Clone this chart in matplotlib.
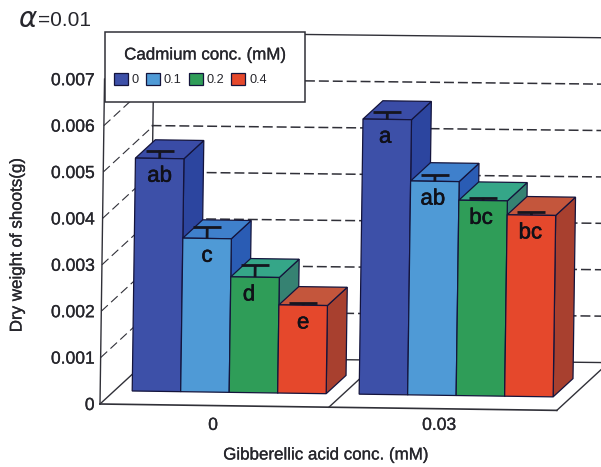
import matplotlib
matplotlib.use("Agg")
import matplotlib.pyplot as plt
from matplotlib.patches import Polygon, Patch, Rectangle
from matplotlib.transforms import Affine2D
import matplotlib.patheffects as pe

plt.rcParams['font.family'] = ['Liberation Sans', 'DejaVu Sans']

# ---- data ----
groups = ['0', '0.03']
series_names = ['0', '0.1', '0.2', '0.4']
group0_values = [0.00502, 0.00331, 0.00249, 0.00190]
group1_values = [0.00593, 0.00461, 0.00421, 0.00391]
group0_errors = [0.00017, 0.00024, 0.00026, 0.00004]
group1_errors = [0.00015, 0.00013, 0.00006, 0.00006]
group0_letters = ['ab', 'c', 'd', 'e']
group1_letters = ['a', 'ab', 'bc', 'bc']
y_ticks = [0, 0.001, 0.002, 0.003, 0.004, 0.005, 0.006, 0.007]
y_tick_labels = ['0', '0.001', '0.002', '0.003', '0.004', '0.005', '0.006', '0.007']

# ---- style ----
W, H = 601, 467
PXX, PXY = 48.5, 46.4 / 0.001       # px per x unit / px per y unit
X0, Y0 = 100, 404                    # px position of the front-left floor corner
front = ['#3d50a8', '#4f9ad6', '#2f9d58', '#e5482c']
top = ['#3a4ca6', '#3f80cc', '#35a688', '#c4563c']
side = ['#2c459f', '#2a5cb4', '#368272', '#a8402f']
edge = '#14143c'
ink = '#26262c'
DX, DY = 49 / PXX, 0.001             # shift of one full floor depth
BAR_D0, BAR_D = 0.29, 0.40           # bar front position / bar depth
group_starts = [0.66, 5.34]
letter_shift = [[0, 0, -6, 0], [-2, -2, -2, -1]]
FLOOR_DIV, FLOOR_END = 4.72, 9.42
bold = [pe.withStroke(linewidth=0.2, foreground=ink)]

fig = plt.figure(figsize=(W / 100, H / 100), dpi=100, facecolor='white')
ax = fig.add_axes([X0 / W, (H - Y0) / H, (W - X0) / W, Y0 / H])
ax.set_xlim(0, (W - X0) / PXX)
ax.set_ylim(0, Y0 / PXY)
tr = ax.transData + Affine2D().rotate_deg_around(X0, H - Y0, -0.8)
tr_wall = ax.transData + Affine2D().rotate_deg_around(152, H - 358, -0.63)

for s in ax.spines.values():
    s.set_visible(False)
ax.patch.set_visible(False)
ax.set_yticks(y_ticks, y_tick_labels, fontsize=12.6, color=ink)
ax.set_xticks([(213 - X0) / PXX, (439 - X0) / PXX], groups, fontsize=12.6, color=ink)
ax.tick_params(axis='y', length=0, pad=4)
ax.tick_params(axis='x', length=0, pad=10)
for lab in ax.get_xticklabels() + ax.get_yticklabels():
    lab.set_path_effects(bold)

line = dict(color='#303038', transform=tr, clip_on=False)
wall = dict(color='#303038', transform=tr_wall, clip_on=False)
# floor
ax.plot([0, FLOOR_END], [0, 0], lw=1.2, zorder=1, **line)
ax.plot([DX, FLOOR_END + DX], [DY, DY], lw=1.0, zorder=1, **wall)
for fx in [0, FLOOR_DIV, FLOOR_END]:
    ax.plot([fx, fx + DX], [0, DY], lw=1.0, zorder=1, **line)
# walls
ax.plot([0, 0], [0, y_ticks[-1]], lw=1.0, zorder=1, **line)
ax.plot([DX, DX], [DY, y_ticks[-1] + DY], lw=1.0, zorder=1, **line)
ax.plot([DX, FLOOR_END + DX], [y_ticks[-1] + DY] * 2, lw=1.0, zorder=1, **wall)
for v in y_ticks[1:]:
    ax.plot([0, DX], [v, v + DY], lw=0.8, dashes=(8, 4), zorder=1, **line)
    if v < y_ticks[-1]:
        ax.plot([DX, FLOOR_END + DX], [v + DY, v + DY], lw=1.1, dashes=(6.5, 2.6), zorder=1, **wall)

# bars
dd, dh = BAR_D * DX, BAR_D * DY
base = BAR_D0 * DY
z = 2
for start, vals, errs, letters, shifts in zip(group_starts,
                                              [group0_values, group1_values],
                                              [group0_errors, group1_errors],
                                              [group0_letters, group1_letters],
                                              letter_shift):
    for i, (v, e, t, sh) in enumerate(zip(vals, errs, letters, shifts)):
        x = start + i
        t_y = base + v
        ax.add_patch(Polygon([(x + 1, base), (x + 1 + dd, base + dh), (x + 1 + dd, t_y + dh), (x + 1, t_y)],
                             fc=side[i], ec=edge, lw=0.9, transform=tr, zorder=z, clip_on=False))
        ax.add_patch(Polygon([(x, t_y), (x + dd, t_y + dh), (x + 1 + dd, t_y + dh), (x + 1, t_y)],
                             fc=top[i], ec=edge, lw=0.9, transform=tr, zorder=z, clip_on=False))
        bars = ax.bar(x + 0.5, v, width=1, bottom=base, color=front[i], edgecolor=edge, lw=0.9,
                      zorder=z, clip_on=False)
        bars[0].set_transform(tr)
        eb = ax.errorbar(x + 0.5, t_y, yerr=[[0], [e]], ecolor='#15151f', elinewidth=2,
                         capsize=10, capthick=2, fmt='none', transform=tr, zorder=z + 0.5)
        eb[1][0].set_visible(False)   # only the upper cap is drawn
        ax.annotate(t, xy=(x + 0.5, t_y), xycoords=tr, xytext=(sh * 0.72, -12.8), textcoords='offset points',
                    ha='center', va='center', fontsize=16, color='#101018', zorder=30,
                    path_effects=[pe.withStroke(linewidth=0.4, foreground='#101018')])
        z += 1

# legend
fig.add_artist(Rectangle((105 / W, 1 - 102 / H), 200 / W, 70 / H, transform=fig.transFigure,
                         fc='white', ec='#303038', lw=1.1, zorder=39))
handles = [Patch(fc=c, ec=edge, lw=0.9) for c in front]
leg = fig.legend(handles, series_names, ncol=4,
                 loc='upper left', bbox_to_anchor=(114 / W, 1 - 73 / H),
                 fontsize=9.2, frameon=False, borderpad=0, borderaxespad=0,
                 handlelength=1.1, handleheight=1.1,
                 handletextpad=0.3, columnspacing=0.55)
leg.set_zorder(40)
for txt in leg.get_texts():
    txt.set_color(ink)
fig.text(205 / W, 1 - 55 / H, 'Cadmium conc. (mM)', ha='center', va='center', fontsize=12.2,
         color=ink, zorder=41, path_effects=bold)

# titles
fig.text(17 / W, 1 - 245 / H, 'Dry weight of shoots(g)', rotation=90, ha='center', va='center',
         fontsize=12.2, color=ink, path_effects=bold)
fig.text(326 / W, 1 - 455 / H, 'Gibberellic acid conc. (mM)', ha='center', va='center',
         fontsize=12.2, color=ink, path_effects=bold)
fig.text(18 / W, 1 - 19 / H, 'α', family='DejaVu Sans', style='italic', ha='left', va='center',
         fontsize=20, color=ink)
fig.text(38 / W, 1 - 20 / H, '=0.01', ha='left', va='center', fontsize=15, color=ink)

fig.savefig('out.png', dpi=100)
